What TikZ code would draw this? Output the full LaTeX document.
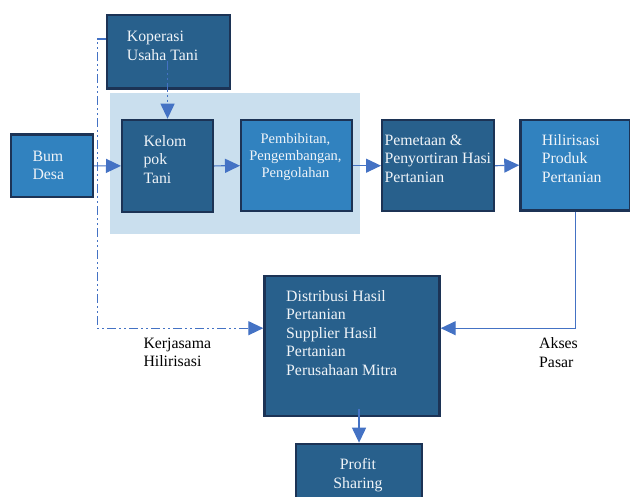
\documentclass[tikz,border=0pt]{standalone}
\usepackage{fontspec}
\setmainfont{Liberation Serif}
\usepackage{xcolor}
\usepackage{tikz}
\usetikzlibrary{arrows.meta}

\definecolor{boxdark}{HTML}{28608C}
\definecolor{boxlight}{HTML}{3182BF}
\definecolor{boxline}{HTML}{1C3355}
\definecolor{clusterbg}{HTML}{CADFEE}
\definecolor{flowblue}{HTML}{4472C4}
\definecolor{boxtext}{HTML}{F0F4F8}

\newcommand{\boxfont}{\fontsize{15.8}{18.5}\selectfont}
\newcommand{\bibitfont}{\fontsize{14.5}{16.7}\selectfont}

\tikzset{
  box/.style={draw=boxline, line width=2.4pt, inner sep=0pt, anchor=north west},
  darkbox/.style={box, fill=boxdark},
  lightbox/.style={box, fill=boxlight},
  txt/.style={text=boxtext, align=left, inner sep=0pt, anchor=north west, font=\boxfont},
  note/.style={txt, text=black},
  flow/.style={draw=flowblue, line width=1.2pt, -{Triangle[length=15pt,width=14pt]}},
  dashflow/.style={flow, dash pattern=on 9pt off 3pt on 2pt off 3pt on 2pt off 3pt}
}

\begin{document}
\begin{tikzpicture}[x=1pt, y=-1pt]
        \clip (0,0) rectangle (630,496);

        \node[fill=clusterbg, inner sep=0pt, anchor=north west, minimum width=250pt, minimum height=141pt] (cluster) at (110,92.3) {};

        \node[darkbox, minimum width=123.3pt, minimum height=73.3pt] (kop) at (105.7,14) {};
        \node[lightbox, minimum width=81.7pt, minimum height=62.7pt] (bum) at (10,133.3) {};
        \node[darkbox, minimum width=90.7pt, minimum height=92pt] (kelom) at (121,118.7) {};
        \node[lightbox, minimum width=110.7pt, minimum height=91pt] (bibit) at (240,119) {};
        \node[darkbox, minimum width=111.7pt, minimum height=91pt] (petak) at (381,119) {};
        \node[lightbox, minimum width=109.7pt, minimum height=90.6pt] (hilir) at (519.3,118.7) {};
        \node[darkbox, minimum width=175pt, minimum height=140pt] (distr) at (263.3,275) {};
        \node[darkbox, minimum width=125.7pt, minimum height=70pt] (profit) at (295,442.7) {};

        \node[txt] (koptxt) at (126.7,31) {Koperasi\\Usaha Tani};
        \node[txt] (bumtxt) at (32.3,150.5) {Bum\\Desa};
        \node[txt] (kelomtxt) at (143.3,135) {Kelom\\pok\\Tani};
        \node[txt, anchor=north, align=center, font=\bibitfont] (bibittxt) at (295.5,133.4) {Pembibitan,\\Pengembangan,\\Pengolahan};
        \node[txt] (petaktxt) at (384.3,134.5) {Pemetaan \&\\Penyortiran Hasi\\Pertanian};
        \node[txt] (hilirtxt) at (541.7,134.3) {Hilirisasi\\Produk\\Pertanian};
        \node[txt] (distrtxt) at (286,290.3) {Distribusi Hasil\\Pertanian\\Supplier Hasil\\Pertanian\\Perusahaan Mitra};
        \node[txt, anchor=north, align=center] (profittxt) at (357.9,458.2) {Profit\\Sharing};

        \node[note] (kerja) at (143.3,337.6) {Kerjasama\\Hilirisasi};
        \node[note] (akses) at (539,337.6) {Akses\\Pasar};

        \coordinate (kerjain) at ([yshift=18pt]distr.west);
        \coordinate (pasarin) at ([yshift=18pt]distr.east);
        \path (profit.north |- distr.south) ++(0,-8) coordinate (distrout);

        \draw[flow] (bum.east) -- (kelom.west);
        \draw[flow] (kelom.east) -- (bibit.west);
        \draw[flow] (bibit.east) -- (petak.west);
        \draw[flow] (petak.east) -- (hilir.west);
        \draw[dashflow] (kelom.north |- koptxt.south) -- (kelom.north);
        \draw[dashflow] ([yshift=12.9pt]kop.west) -- ++(-8.5,0) |- (kerjain);
        \draw[flow] (hilir.south) |- (pasarin);
        \draw[flow] (distrout) -- (profit.north);
    \end{tikzpicture}
\end{document}
